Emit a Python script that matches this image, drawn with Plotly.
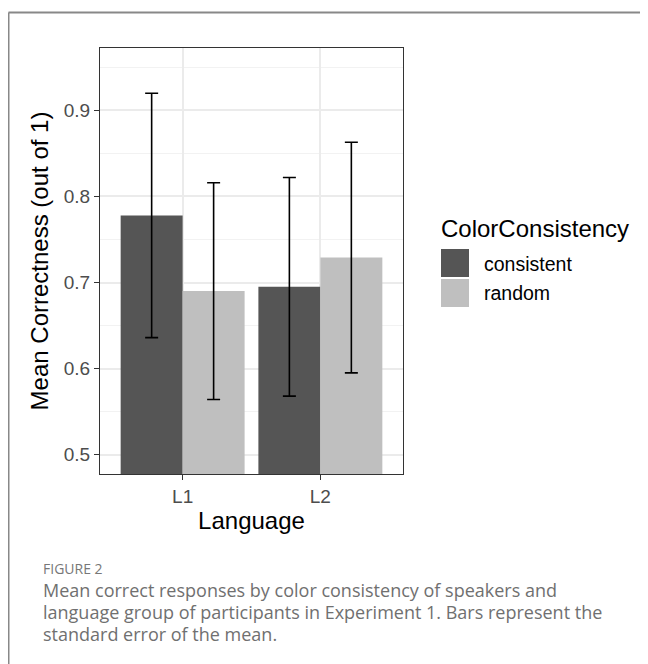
import plotly.graph_objects as go

# ---- data ----
languages = ["L1", "L2"]
consistent_mean = [0.778, 0.695]
random_mean = [0.690, 0.729]
consistent_se = [0.142, 0.127]
random_se = [0.126, 0.134]
series_names = ["consistent", "random"]
legend_title = "ColorConsistency"
y_ticks = [0.5, 0.6, 0.7, 0.8, 0.9]
caption_label = "FIGURE 2"
caption_lines = [
    "Mean correct responses by color consistency of speakers and",
    "language group of participants in Experiment 1. Bars represent the",
    "standard error of the mean.",
]

# ---- styling ----
OFF = 8  # page body margin
W, H = 648 - OFF, 664 - OFF
# plot area in page px, converted to figure px
L, R, T, B = 100 - OFF, 403 - OFF, 48 - OFF, 474 - OFF
DARK = "#555555"
LIGHT = "#bfbfbf"
FONT = "Liberation Sans, Arial, sans-serif"
CAP_FONT = "Open Sans, Lato, sans-serif"


def px(xp):
    """page x pixel -> paper coordinate"""
    return (xp - OFF - L) / (R - L)


def py(yp):
    """page y pixel -> paper coordinate"""
    return (B - (yp - OFF)) / (B - T)


fig = go.Figure()
for name, means, ses, col in [
    (series_names[0], consistent_mean, consistent_se, DARK),
    (series_names[1], random_mean, random_se, LIGHT),
]:
    fig.add_trace(go.Bar(
        x=languages, y=means, name=name, marker=dict(color=col, line=dict(width=0)),
        error_y=dict(type="data", array=ses, visible=True, color="black",
                     thickness=1.6, width=6.5),
        showlegend=False,
    ))

fig.update_layout(
    width=W, height=H,
    margin=dict(l=L, r=W - R, t=T, b=H - B, pad=0),
    paper_bgcolor="white", plot_bgcolor="white",
    barmode="group", bargap=0.1, bargroupgap=0,
    font=dict(family=FONT, color="black"),
    xaxis=dict(
        range=[-0.6, 1.6], showline=True, mirror=True, linecolor="#333333", linewidth=1.3,
        ticks="outside", ticklen=5, tickcolor="#333333", tickwidth=1.3,
        showgrid=True, gridcolor="#ebebeb", gridwidth=1.6,
        tickfont=dict(size=19, color="#4d4d4d"),
        title=dict(text="Language", font=dict(size=24, color="black"), standoff=6),
        zeroline=False,
    ),
    yaxis=dict(
        range=[0.4775, 0.9725], showline=True, mirror=True, linecolor="#333333", linewidth=1.3,
        ticks="outside", ticklen=5, tickcolor="#333333", tickwidth=1.3,
        tickvals=y_ticks, ticktext=[f"{v:.1f}" for v in y_ticks],
        showgrid=True, gridcolor="#ebebeb", gridwidth=1.6,
        minor=dict(dtick=0.05, tick0=0.5, showgrid=True, gridcolor="#f2f2f2", gridwidth=1, ticks=""),
        tickfont=dict(size=19, color="#4d4d4d"),
        title=dict(text="Mean Correctness (out of 1)", font=dict(size=24, color="black"), standoff=8),
        zeroline=False,
    ),
)

shapes = []
# outer figure frame (left and top lines)
shapes.append(dict(type="line", xref="paper", yref="paper", x0=px(8.5), x1=px(8.5),
                   y0=py(12.5), y1=py(664), line=dict(color="#888888", width=2)))
shapes.append(dict(type="line", xref="paper", yref="paper", x0=px(8.5), x1=px(648),
                   y0=py(12.5), y1=py(12.5), line=dict(color="#888888", width=2)))
# legend keys
for i, col in enumerate([DARK, LIGHT]):
    y0 = 249 + i * 30
    shapes.append(dict(type="rect", xref="paper", yref="paper", x0=px(441), x1=px(469),
                       y0=py(y0 + 28), y1=py(y0), fillcolor=col, line=dict(width=0)))

annotations = [
    dict(text=legend_title, xref="paper", yref="paper", x=px(439), y=py(228),
         xanchor="left", yanchor="middle", showarrow=False,
         font=dict(family=FONT, size=24, color="black")),
]
for i, name in enumerate(series_names):
    annotations.append(dict(text=name, xref="paper", yref="paper", x=px(482), y=py(264 + i * 29),
                            xanchor="left", yanchor="middle", showarrow=False,
                            font=dict(family=FONT, size=19.5, color="black")))
annotations.append(dict(text=caption_label, xref="paper", yref="paper", x=px(41), y=py(568),
                        xanchor="left", yanchor="middle", showarrow=False,
                        font=dict(family=CAP_FONT, size=14, color="#777777")))
for i, line in enumerate(caption_lines):
    annotations.append(dict(text=line, xref="paper", yref="paper", x=px(41), y=py(590 + i * 22),
                            xanchor="left", yanchor="middle", showarrow=False,
                            font=dict(family=CAP_FONT, size=18, color="#707070")))

fig.update_layout(shapes=shapes, annotations=annotations)
fig.write_html("out.html")
